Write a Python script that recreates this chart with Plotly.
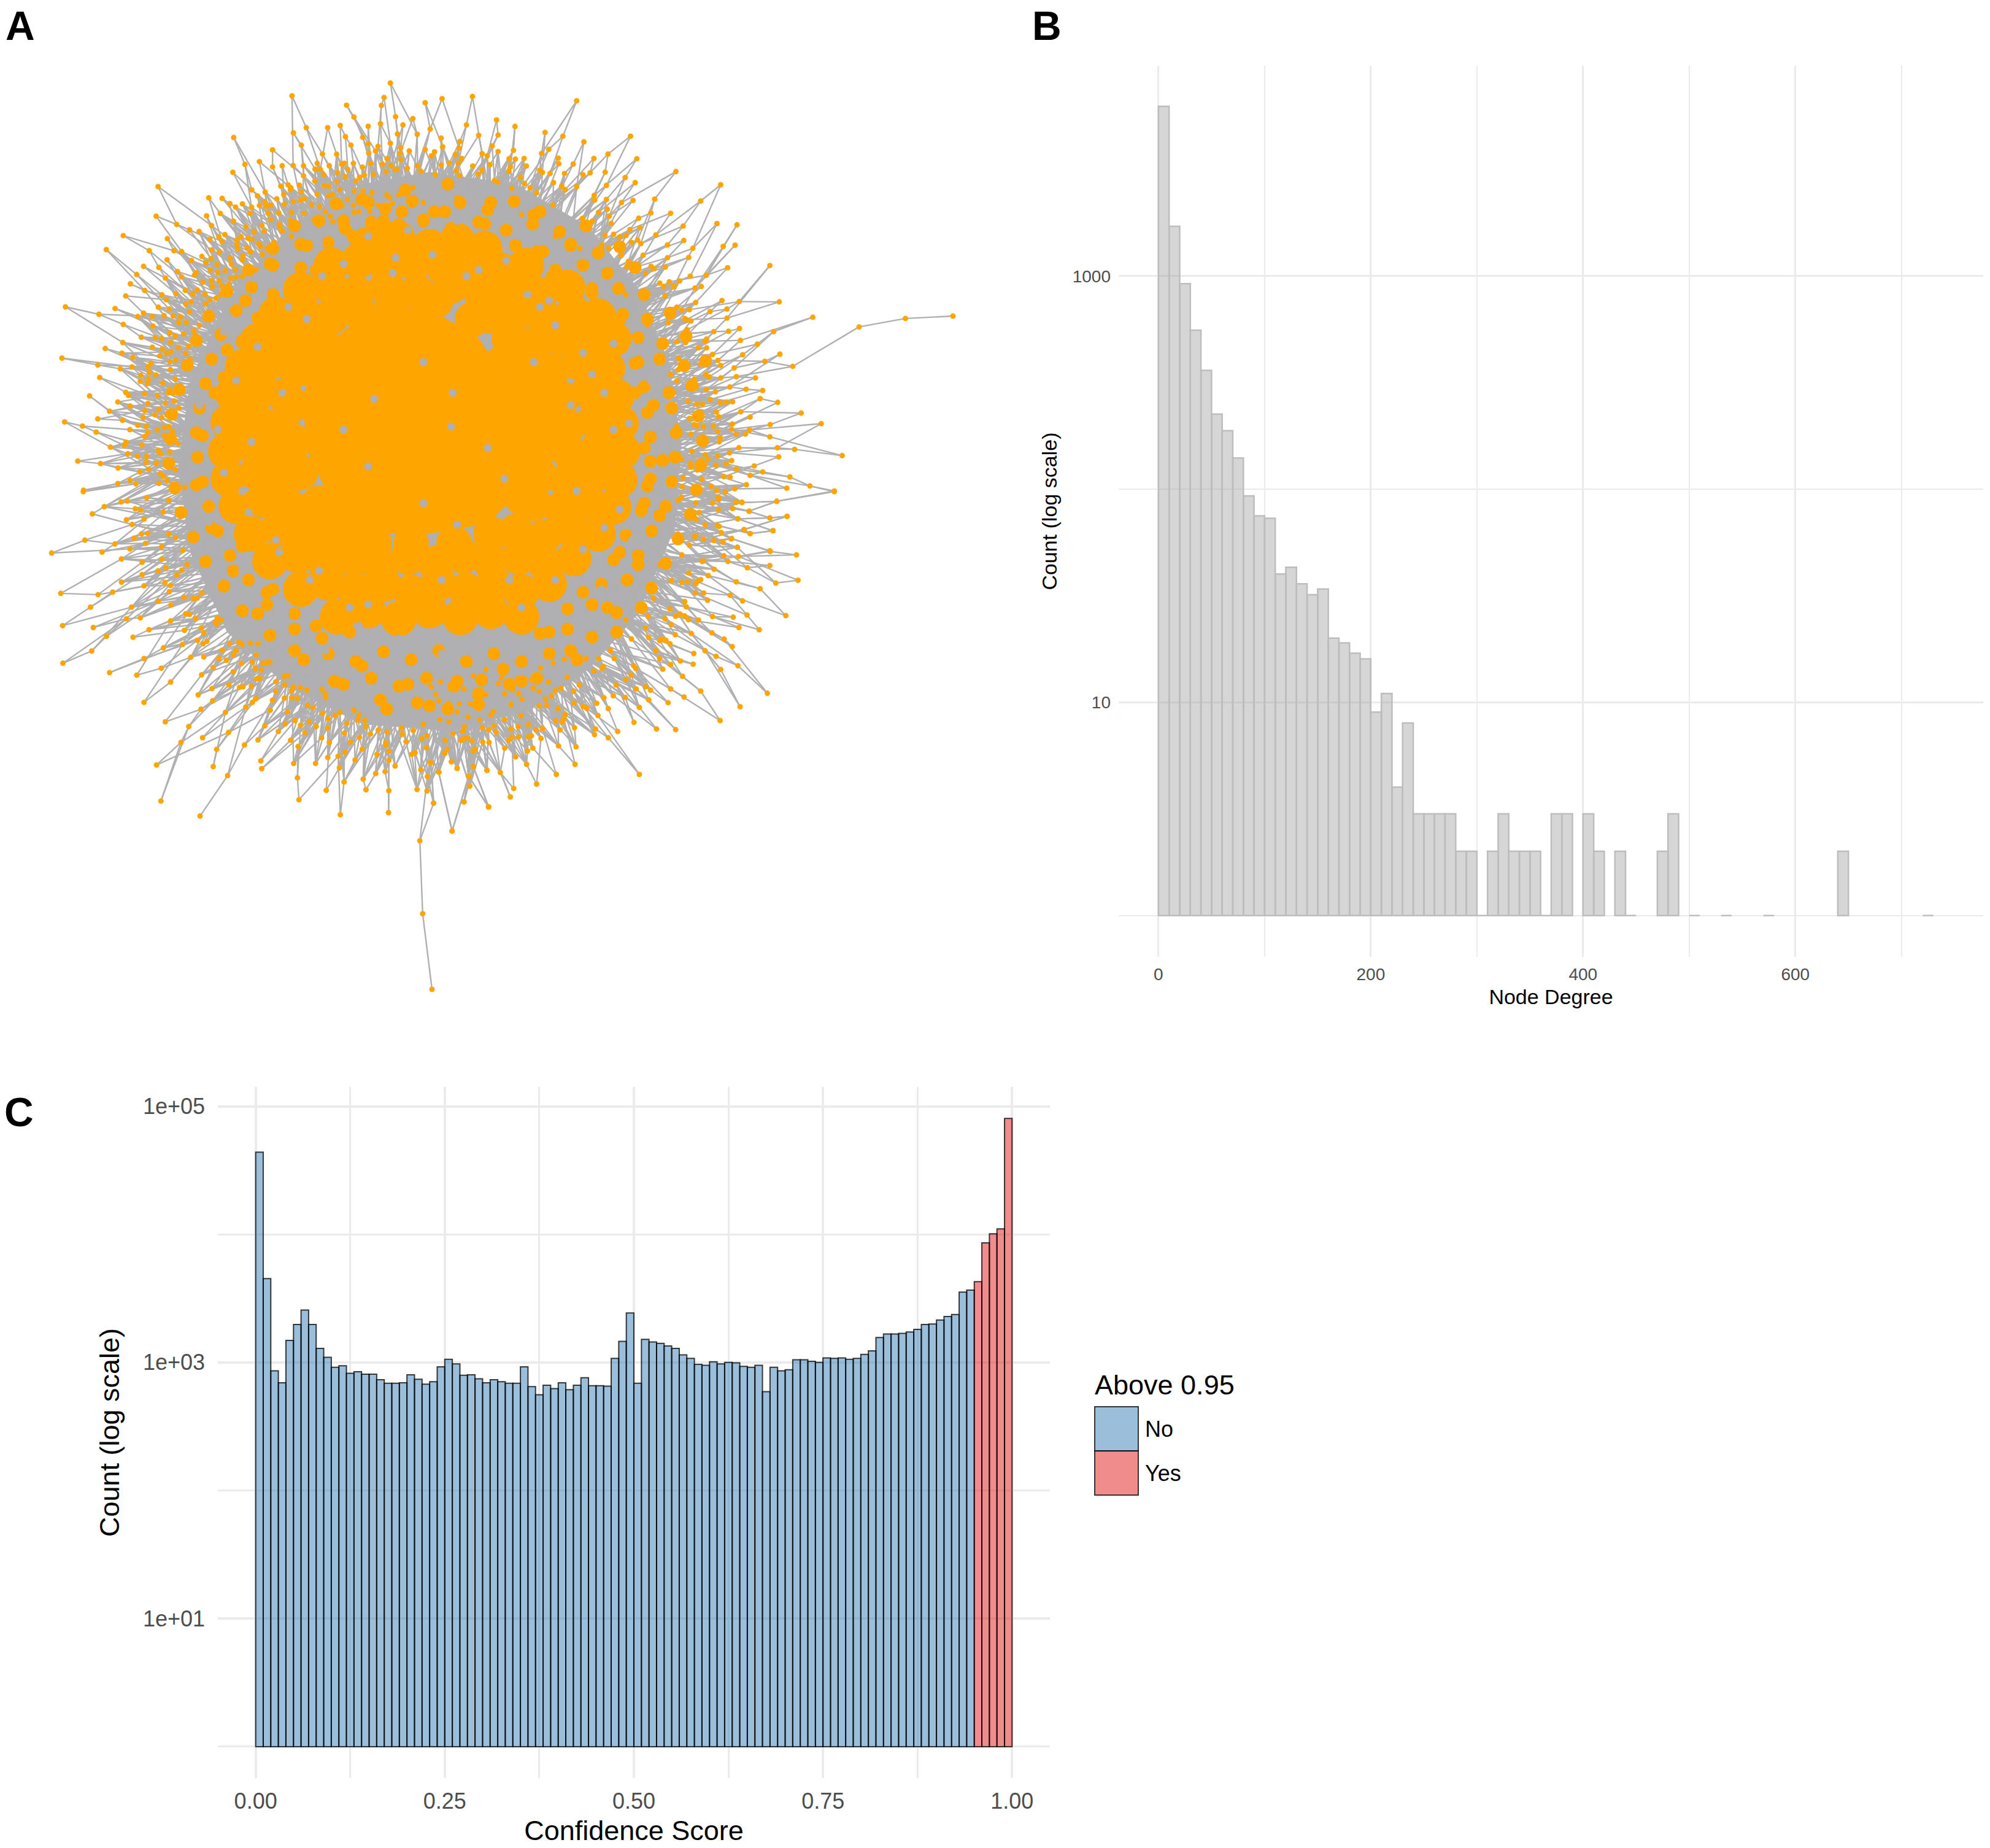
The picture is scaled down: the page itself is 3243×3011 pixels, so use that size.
################################################################################
# Three panel figure: network layout, node degree histogram, confidence histogram
################################################################################

import numpy as np
import plotly.graph_objects as go

W, H = 3243, 3011
FONT = "Liberation Sans"

################################################################################
# Panel A data, node positions, one block per quadrant

nw_nodes = [(1066,126),(1071,261),(1425,79),(1402,132),(1265,160),(1392,161),(1292,203),(1552,151),(1444,202),(1507,209),
(1242,234),(1344,237),(1389,228),(1471,232),(1118,242),(1196,242),(1261,275),(1324,277),(1451,265),(1523,266),(853,278),
(1100,306),(1281,306),(1344,301),(1380,310),(1425,299),(1463,315),(1494,327),(1552,322),(995,323),(1177,338),(1229,339),
(1346,335),(1413,355),(1464,359),(947,366),(894,376),(995,385),(1030,381),(1070,380),(1108,381),(1158,372),(1202,381),
(1247,376),(1290,372),(1353,373),(1396,375),(1427,379),(850,405),(1108,418),(1150,393),(1182,414),(1232,406),(1270,395),
(1323,386),(1364,413),(1409,402),(1450,394),(1487,390),(1524,382),(1149,437),(1025,455),(1052,451),(1093,452),(1183,454),
(1200,456),(1260,421),(1300,437),(1330,415),(577,457),(919,469),(968,477),(1036,486),(1060,468),(1100,476),(1158,485),
(1214,487),(1240,468),(1292,473),(1325,472),(1358,479),(1412,487),(1456,487),(1508,460),(762,498),(811,500),(940,491),
(1071,512),(1097,507),(1200,490),(1268,504),(1310,510),(839,519),(885,520),(860,532),(918,532),(967,512),(947,526),
(989,525),(1038,521),(1137,524),(1167,530),(1212,516),(1248,527),(1290,525),(1380,526),(1433,518),(1500,525),(804,555),
(754,564),(913,555),(978,554),(1018,553),(1064,551),(1110,555),(1145,578),(1206,565),(1250,568),(1293,551),(1350,547),
(570,565),(852,583),(988,577),(1060,580),(1215,585),(645,595),(772,599),(898,604),(956,599),(1020,596),(1085,605),
(692,615),(727,621),(928,622),(965,620),(1030,620),(450,636),(611,647),(766,649),(799,640),(821,632),(880,640),(906,645),
(1000,660),(811,658),(864,652),(920,650),(388,687),(545,691),(635,691),(663,694),(772,688),(801,696),(868,684),(902,680),
(945,665),(737,712),(699,727),(770,719),(840,718),(887,710),(915,695),(958,705),(610,724),(524,748),(580,752),(751,735),
(845,740),(885,725),(499,778),(648,767),(716,771),(767,762),(795,770),(822,764),(860,760),(604,791),(663,787),(710,780),
(862,788),(935,760),(476,812),(740,806),(772,800),(800,800),(835,815),(528,836),(677,836),(720,834),(775,822),(810,820),
(642,848),(459,856),(591,852),(748,850),(765,870),(607,870),(678,886),(698,877),(750,885),(239,896),(420,902),(578,897),
(618,904),(361,923),(524,919),(503,931),(555,931),(599,928),(632,929),(692,914),(652,953),(450,960),(558,966),(680,953),
(516,1007),(567,1008),(590,1012),(620,990),(640,1003),(670,995),(712,1000),(448,1026),(556,1043),(622,1026),(652,1045),
(688,1040),(384,1048),(445,1065),(583,1075),(608,1065),(624,1060),(226,1083),(485,1080),(357,1108),(482,1115),(439,1122),
(540,1115),(551,1102),(620,1096),(642,1090),(680,1120),(514,1146),(545,1135),(622,1125),(364,1154),(543,1160),(512,1168),
(538,1176),(594,1174),(640,1160),(327,1221),(459,1208),(469,1219),(528,1213),(575,1220),(614,1210),(430,1243),(540,1248),
(603,1248),(636,1240),(475,1258),(580,1270),(653,1265),(400,1277),(565,1290),(620,1285),(236,1316),(357,1305),(447,1310),
(523,1300),(590,1300),(301,1331),(503,1328),(534,1331),(600,1335),(351,1353),(474,1344),(575,1345),(630,1350),(540,1355),
(460,1390),(454,1402),(518,1400),(403,1408),(600,1365),(620,1385),(650,1395),(284,1459),(367,1468),(467,1432),(502,1441),
(535,1441),(586,1432),(620,1425),(431,1484),(534,1464),(570,1467),(608,1460),(543,1489),(585,1505),(640,1490),(475,1529),
(430,1541),(305,1565),(496,1542),(580,1540),(610,1530),(675,1555)]

ne_nodes = [(40,119),(137,112),(470,126),(214,187),(118,203),(273,208),(2,216),(157,236),(219,235),(369,227),(426,239),
(493,257),(642,239),(37,245),(97,256),(42,273),(200,270),(94,277),(16,289),(168,295),(219,288),(268,284),(358,294),(381,281),
(525,310),(570,296),(662,311),(103,310),(254,311),(274,312),(302,310),(411,309),(63,325),(92,325),(37,331),(138,334),(309,334),
(459,328),(413,327),(787,352),(167,347),(193,330),(253,351),(352,348),(385,358),(431,358),(490,362),(513,356),(561,354),(930,394),
(18,361),(96,365),(155,360),(290,370),(625,371),(657,387),(565,396),(396,387),(470,400),(422,398),(526,428),(565,441),(613,451),
(650,444),(719,440),(866,446),(218,385),(303,390),(342,420),(263,405),(568,472),(540,482),(574,494),(707,484),(770,485),(668,501),
(918,518),(982,522),(810,526),(672,531),(520,510),(640,537),(723,554),(560,555),(588,552),(608,560),(628,556),(675,582),(645,578),
(760,586),(812,572),(938,591),(976,587),(841,597),(572,597),(682,619),(760,627),(828,626),(612,620),(952,659),(1087,652),(884,683),
(833,686),(630,655),(690,677),(717,662),(753,657),(799,701),(766,704),(658,665),(868,719),(848,724),(735,708),(748,719),(780,720),
(752,749),(934,764),(989,767),(1117,768),(850,770),(790,785),(806,794),(830,793),(950,791),(896,799),(1224,817),(1520,821),(1372,848),
(950,820),(820,825),(835,829),(990,853),(955,862),(908,863),(1099,863),(823,857),(885,887),(993,891),(790,895),(818,898),(1047,903),
(885,915),(858,915),(904,936),(1000,937),(1119,935),(921,955),(1071,958),(866,967),(820,965),(1160,974),(930,971),(973,979),(770,1000),
(795,985),(882,1000),(980,1007),(930,1011),(1041,1011),(845,1015),(790,1020),(1011,1047),(1064,1051),(959,1040),(884,1048),(913,1055),
(825,1040),(850,1040),(1056,1077),(897,1080),(948,1088),(968,1087),(853,1095),(872,1095),(825,1085),(1112,1089),(994,1119),(916,1120),
(867,1122),(1187,1123),(1024,1136),(924,1135),(830,1140),(1251,1157),(1088,1160),(967,1158),(907,1165),(1022,1177),(965,1175),(920,1182),
(875,1167),(845,1160),(979,1190),(1009,1190),(1087,1199),(880,1217),(925,1215),(835,1190),(988,1234),(1111,1234),(1166,1239),(838,1245),
(958,1250),(1115,1263),(920,1260),(1318,1259),(965,1275),(890,1270),(867,1275),(805,1270),(1037,1292),(980,1302),(915,1290),(855,1305),
(835,1296),(1064,1311),(1024,1322),(960,1328),(940,1326),(870,1335),(810,1330),(1151,1327),(1215,1356),(1141,1363),(1012,1352),(975,1365),
(900,1357),(808,1358),(1293,1372),(945,1375),(917,1370),(848,1380),(923,1393),(805,1392),(979,1408),(998,1408),(1109,1405),(850,1410),
(905,1410),(968,1428),(923,1432),(1021,1437),(862,1440),(1142,1453),(1087,1458),(985,1461),(880,1480),(925,1485),(1005,1495),(1097,1499),
(1024,1508),(932,1505),(850,1515),(965,1524),(908,1530),(875,1526),(937,1535),(983,1552),(830,1545),(1087,1563)]

sw_nodes = [(266,2),(387,35),(407,32),(333,50),(432,57),(449,61),(295,73),(460,90),(404,92),(422,107),(452,137),(428,151),(271,157),
(367,169),(465,167),(516,178),(415,185),(165,198),(326,195),(584,190),(388,217),(454,228),(530,245),(505,255),(454,267),(565,268),(388,291),
(460,303),(527,292),(545,302),(360,323),(194,327),(313,331),(506,352),(546,364),(289,371),(420,371),(588,340),(630,342),(404,408),(448,405),
(593,392),(625,407),(545,415),(694,406),(200,430),(298,436),(476,443),(589,445),(643,437),(692,425),(340,464),(425,467),(651,453),(630,477),
(661,480),(583,490),(522,501),(293,511),(460,535),(609,531),(651,530),(699,535),(710,508),(733,487),(773,490),(800,486),(825,487),(745,523),
(818,524),(201,550),(515,566),(681,564),(771,551),(805,546),(840,550),(862,545),(350,580),(437,588),(644,587),(745,577),(835,571),(545,610),
(820,600),(830,598),(908,592),(920,590),(677,631),(731,619),(765,627),(803,623),(881,609),(881,640),(938,625),(960,628),(980,636),(1028,633),
(633,651),(460,675),(679,670),(818,663),(806,675),(785,690),(863,700),(908,662),(932,660),(950,662),(1040,660),(642,697),(720,707),(918,705),
(1000,692),(1030,710),(1070,717),(1048,727),(528,737),(911,744),(846,750),(960,748),(988,737),(1108,742),(1130,700),(1142,732),(1165,732),
(603,752),(889,768),(974,772),(1010,752),(1100,773),(730,771),(1183,776),(1208,764),(1237,770),(1285,777),(1320,765),(647,788),(578,803),
(781,811),(824,795),(928,796),(952,816),(1027,788),(1052,803),(1148,787),(1232,803),(1297,800),(1347,790),(1157,824),(1102,834),(1242,831),
(1326,836),(1361,820),(1421,838),(1518,825),(692,825),(1204,841),(1080,847),(1047,851),(833,862),(1134,859),(1242,860),(1374,867),(1442,865),
(500,875),(1008,870),(938,870),(681,880),(1084,884),(1262,878),(836,887),(1344,890),(1460,886),(1512,880),(1556,892),(727,909),(950,916),
(1200,902),(1230,896),(1402,898),(1365,912),(1497,911),(1160,920),(1099,929),(1501,942),(1332,953),(1042,956),(1169,954),(1242,957),(1364,958),
(514,990),(955,986),(1385,997),(1482,993),(1561,1009),(1241,1027),(639,1038),(1087,1034),(1444,1086),(1341,1117),(1350,1350)]

se_nodes = [(1293,2),(1109,33),(1142,81),(1087,86),(1021,64),(985,89),(998,37),(979,36),(1097,127),(1024,136),(1004,124),(963,153),(937,162),
(908,158),(875,154),(846,146),(983,180),(1088,193),(987,209),(940,207),(1172,204),(1087,238),(1015,245),(953,225),(871,225),(909,250),(890,270),
(866,283),(855,289),(828,262),(1177,285),(1106,294),(1056,312),(980,290),(825,289),(806,292),(960,333),(876,326),(849,326),(1000,351),(888,349),
(815,353),(1138,398),(1014,396),(904,401),(970,403),(820,370),(768,377),(800,393),(815,399),(827,411),(859,412),(752,408),(988,436),(1053,443),
(772,427),(690,437),(902,453),(836,455),(785,459),(700,468),(941,473),(735,478),(755,477),(768,488),(967,497),(880,510),(844,519),(723,510),
(915,528),(985,558),(842,553),(801,543),(735,535),(770,554),(930,570),(745,569),(808,592),(652,558),(866,639),(1079,646),(813,658),(770,632),
(706,636),(690,625),(627,602),(644,588),(660,632),(992,689),(587,654),(625,659),(700,667),(762,676),(670,691),(557,660),(534,678),(491,688),
(571,695),(461,677),(928,733),(653,739),(538,717),(433,714),(725,760),(786,762),(601,768),(530,760),(463,756),(571,788),(527,778),(417,763),
(403,734),(424,738),(361,759),(340,763),(316,746),(283,752),(260,760),(412,814),(468,817),(356,790),(240,821),(263,786),(284,786),(316,785),
(313,830),(330,821),(146,825),(48,837),(170,802),(190,803),(213,770),(275,849),(70,864),(5,868),(670,905),(465,873),(310,873),(140,880),(88,885),
(29,897),(183,892),(226,899),(405,905),(125,911),(342,936),(128,943),(269,950),(258,977),(13,997),(110,993),(188,1009),(72,1086),(110,790),
(135,798),(100,797),(205,750),(168,755),(112,753),(75,775),(50,797),(120,788),(62,737),(33,730),(123,722),(160,730),(240,730),(205,704),(150,688),
(95,680),(60,678),(30,670),(130,680),(260,682),(295,665),(350,686),(410,695),(460,640),(420,630),(390,655),(370,665),(330,630),(350,640),(240,648),
(180,650),(145,655),(110,632),(65,630),(20,650),(220,615),(265,635),(300,610),(380,610),(440,595),(525,575),(555,560),(590,535),(540,535),(500,535),
(460,517),(430,537),(395,550),(355,565),(325,602),(280,600),(230,597),(180,570),(140,590),(95,605),(35,610),(5,625)]

# nodes just outside the dense part
band_nodes = [(474,306),(522,276),(561,266),(612,246),(652,250),(703,254),(742,252),(794,254),(832,272),(884,281),(921,309),(969,326),(996,364),
(1039,391),(1061,434),(1099,466),(1116,519),(1149,556),(1156,614),(1174,656),(1174,714),(1184,756),(1171,814),(1169,856),(1146,914),(1134,951),
(1101,1004),(1079,1041),(1036,1089),(1004,1116),(956,1154),(919,1171),(866,1199),(829,1206),(771,1224),(729,1221),(671,1229),(629,1214),(571,1209),
(534,1186),(481,1174),(444,1141),(396,1119),(369,1076),(331,1049),(309,1001),(276,964),(264,911),(241,869),(239,811),(228,769),(236,711),(236,669),
(254,611),(264,569),(294,516),(314,479),(354,431),(386,399),(434,336),(451,324),
(496,324),(549,296),(586,289),(644,276),(686,279),(744,278),(806,294),(864,306),(901,334),(949,356),(981,399),(1024,426),(1051,484),(1089,526),
(1106,584),(1134,631),(1136,694),(1149,741),(1136,804),(1134,846),(1111,904),(1094,946),(1056,1004),(1029,1041),(981,1089),(944,1116),(891,1149),
(849,1166),(796,1189),(754,1191),(696,1199),(654,1186),(596,1184),(554,1161),(501,1149),(464,1116),(416,1089),(389,1046),(351,1014),(329,966),
(296,929),(286,876),(266,834),(266,776),(258,734),(272,676),(276,634),(302,576),(316,539),(352,486),(376,454),(424,401),(456,369),
(690,330),(745,322),(798,345),(850,350),(905,385),(945,405),(985,450),(1020,480),(1055,530),(1070,585),(1098,640),(1103,695),(1125,755),(1105,815),
(1105,870),(1075,920),(1065,975),(1020,1010),(995,1060),(945,1080),(905,1125),(845,1130),(800,1165),(745,1160),(690,1180),(635,1160),(585,1165),
(530,1130),(475,1125),(435,1080),(385,1060),(360,1010),(315,975),(305,920),(275,870),(275,815),(255,755),(275,695),(282,640),(310,585),(325,530),
(360,480),(395,450),(435,405),(475,385),(530,345),(585,345),(635,322)]

# dense part of the network, small clumps of nodes around the heavy area
mix_nodes = [(600,330),(660,310),(730,300),(800,330),(870,350),(930,400),(560,360),(500,400),(440,430),(400,490),
(620,375),(690,360),(760,385),(840,400),(900,450),(965,470),(1010,520),(540,430),(475,470),(420,540),
(370,570),(350,640),(330,710),(320,790),(345,860),(380,930),(420,1000),(480,1060),(545,1110),(620,1140),
(700,1150),(780,1130),(850,1110),(930,1060),(990,990),(1040,920),(1075,840),(1080,750),(1065,660),(1040,590),
(655,345),(575,385),(515,440),(445,490),(395,555),(365,615),(355,680),(360,750),(370,815),(395,890),
(435,965),(515,1020),(590,1085),(665,1115),(745,1110),(820,1090),(895,1030),(950,965),(1010,900),(1050,820),
(1050,730),(1035,640),(985,585),(935,505),(875,410),(790,365),(725,345),(625,360),(1000,680),(1060,780),
(548,332),(590,325),(628,340),(672,328),(708,345),(750,330),(795,342),(838,328),(880,345),
(480,368),(520,360),(562,372),(605,362),(650,366),(690,358),(735,372),(780,362),(825,375),(868,365),(912,378),(955,368),
(445,405),(490,398),(535,395),(840,400),(885,410),(930,398),(975,412),(1010,402),
(405,440),(445,432),(490,436),(905,440),(950,432),(990,445),(1035,436),
(370,475),(410,468),(445,480),(965,478),(1008,470),(1050,480),
(340,515),(385,506),(420,518),(1015,512),(1055,520),(1092,510),
(320,555),(360,545),(395,558),(1040,550),(1080,560),(1118,548),
(305,595),(345,585),(1035,592),(1075,585),(1115,596),(1150,588),
(292,635),(335,625),(1050,630),(1090,640),(1128,628),
(280,675),(325,665),(1055,672),(1095,665),(1138,678),
(278,715),(320,705),(1060,712),(1102,705),(1145,718),
(275,755),(322,745),(1060,752),(1100,745),(1142,758),
(285,795),(330,785),(1055,792),(1095,785),(1135,798),
(295,835),(340,825),(1045,832),(1085,825),(1125,838),
(315,875),(355,865),(395,880),(1020,872),(1062,865),(1105,878),
(335,915),(375,905),(1000,912),(1040,905),(1085,918),
(365,955),(405,945),(445,960),(980,952),(1022,945),(1062,958),
(395,995),(435,985),(480,1000),(925,992),(965,985),(1005,998),(1045,990),
(440,1035),(480,1025),(525,1040),(570,1030),(880,1032),(925,1025),(965,1038),(1005,1030),
(495,1075),(535,1065),(580,1078),(625,1062),(670,1075),(715,1060),(760,1078),(805,1065),(850,1078),(895,1065),(940,1075),
(560,1115),(605,1105),(650,1118),(695,1105),(740,1118),(785,1108),(830,1115),(875,1105),
(630,1155),(680,1145),(730,1155),(780,1148)]

# heavy area around the solid core, nodes overlap nearly everywhere here
heavy_nodes = [(600,398),(648,388),(700,402),(745,392),(790,405),
(540,432),(585,425),(632,436),(675,428),(725,438),(772,430),(815,440),(858,432),
(490,472),(535,465),(580,478),(630,468),(680,476),(735,466),(785,478),(830,470),(880,480),(925,468),
(450,512),(492,505),(540,516),(585,508),(800,515),(845,508),(890,520),(935,510),(975,515),
(420,555),(462,548),(505,558),(830,552),(872,560),(915,550),(960,558),(1000,552),
(395,598),(440,590),(482,600),(855,595),(900,604),(945,592),(990,600),
(380,642),(425,635),(465,645),(870,640),(915,650),(960,638),(1005,646),
(372,688),(415,680),(458,692),(880,682),(925,695),(970,685),(1012,690),
(368,735),(412,725),(455,738),(885,728),(930,740),(975,730),(1015,735),
(372,780),(418,770),(462,785),(880,775),(925,785),(970,772),(1010,782),
(385,825),(430,815),(475,828),(515,835),(870,820),(915,830),(960,818),(1000,826),
(410,870),(455,860),(500,875),(545,868),(590,880),(840,866),(885,876),(930,862),(975,870),
(440,915),(485,905),(530,918),(575,910),(620,922),(665,908),(710,918),(755,906),(800,916),(845,908),(890,920),(935,910),
(490,960),(535,950),(580,962),(625,952),(670,965),(715,950),(760,962),(805,952),(850,964),(895,952),
(550,1005),(600,995),(650,1008),(700,995),(750,1006),(800,996),(850,1005),
(820,590),(845,640),(860,690),(865,750),(850,810),(800,870),(740,885),(670,885),(610,885),(560,850),(520,820),(490,770),
(480,720),(475,660),(490,600),(520,545),(570,495),(640,490),(710,490),(770,520)]

# gaps left in the orange, the edges show through there
gap_x = [690,738,610,560,735,795,600,690,745,822,500,870,930,460,940,410,600,720,830,520,645,760,880,965,395,455,985,1000,700,585,
         560,640,705,780,860,905,950,985,1025,1040,1010,950,905,850,780,720,650,570,505,450,405,365,355,385,420,470,525,600,665,745,
         825,895,1000,1060,1085,1075,1030,980,900,830,620,530,465,395,340,310,325,365,440,520]
gap_y = [590,640,650,700,695,730,760,820,855,780,520,590,660,640,800,720,985,945,945,930,420,450,500,610,800,900,860,700,1030,1020,
         430,445,415,440,480,530,575,640,690,760,830,895,945,990,1030,1065,1040,990,945,880,835,770,700,620,565,500,450,385,375,360,
         425,490,560,620,700,810,880,960,1010,1050,1090,1060,1000,930,850,760,660,540,460,395]

core_outline_x = [606,698,778,824,858,853,795,698,606,537,503,491,520]
core_outline_y = [503,503,548,617,709,795,853,870,870,813,738,652,571]
mass_outline_x = [700,840,960,1040,1090,1110,1100,1040,960,860,720,590,470,370,310,290,310,370,470,590]
mass_outline_y = [280,300,370,470,590,720,860,1000,1090,1160,1190,1180,1120,1030,900,760,620,490,370,300]

################################################################################
# Panel B data, left edge of each 10 wide bin that holds anything

degree_bins = [0,10,20,30,40,50,60,70,80,90,100,110,120,130,140,150,160,170,180,190,200,210,220,230,
               240,250,260,270,280,290,300,310,320,330,340,350,360,370,380,400,410,430,440,470,480,
               500,530,570,640,720]
degree_counts = [6260,1710,921,557,361,225,188,140,93,75,73,40,43,36,32,34,20,19,17,16,9,11,4,8,
                 3,3,3,3,2,2,1,2,3,2,2,2,1,3,3,3,2,2,1,2,3,
                 1,1,1,2,1]

################################################################################
# Panel C data, 100 bins of width 0.01

score_bins = [i/100 for i in range(100)]
score_counts = [43800,4510,861,694,1486,1979,2565,1979,1288,1096,916,942,823,846,809,809,733,688,688,694,
                801,739,676,707,925,1057,975,794,801,746,694,733,707,688,688,925,647,560,664,624,
                694,612,664,759,658,658,652,1077,1459,2432,688,1513,1445,1409,1346,1288,1146,1077,967,950,
                1011,975,1002,993,933,916,950,591,916,861,876,1048,1048,1020,1002,1086,1077,1086,1057,1077,
                1156,1230,1567,1670,1670,1684,1730,1810,1979,1996,2144,2284,2367,3540,3670,4273,8590,10090,11040,80500]
above_flags = ["Yes" if b >= 0.95 else "No" for b in score_bins]

score_ticks = [0, 0.25, 0.5, 0.75, 1]
score_labels = ["0.00", "0.25", "0.50", "0.75", "1.00"]
score_minor = [0.125, 0.375, 0.625, 0.875]

################################################################################
# Network helpers

def shift(nodes, x0, y0, scale):
    a = np.array(nodes, dtype=float)
    return a[:, 0]/scale + x0, a[:, 1]/scale + y0

nx_parts, ny_parts = [], []
for nodes, x0, y0, scale in [(nw_nodes, 0, 100, 2.24), (ne_nodes, 700, 100, 1.96),
                             (sw_nodes, 0, 800, 1.96), (se_nodes, 700, 800, 1.96),
                             (band_nodes, 0, 0, 1)]:
    a, b = shift(nodes, x0, y0, scale)
    nx_parts.append(a)
    ny_parts.append(b)
# tail on the bottom and the far right node
rim_x = np.concatenate(nx_parts + [np.array([704.0, 1553.0])])
rim_y = np.concatenate(ny_parts + [np.array([1612.0, 515.0])])

mix_x, mix_y = shift(mix_nodes, 0, 0, 1)
heavy_x, heavy_y = shift(heavy_nodes, 0, 0, 1)

all_x = np.concatenate([rim_x, mix_x, heavy_x])
all_y = np.concatenate([rim_y, mix_y, heavy_y])
CX, CY = 690, 760
radius = np.hypot(all_x-CX, all_y-CY)

# spokes: every outer node hangs on nodes further in, in about the same direction
# the far out ones mostly have a single edge
edge_x, edge_y = [], []
for i in range(len(rim_x)):
    dx, dy = all_x-all_x[i], all_y-all_y[i]
    dist = np.hypot(dx, dy)
    ux, uy = (CX-all_x[i])/radius[i], (CY-all_y[i])/radius[i]
    with np.errstate(divide="ignore", invalid="ignore"):
        cosine = (dx*ux + dy*uy)/dist
    ok = np.where((radius < radius[i]) & (cosine > 0.9))[0]
    if len(ok) == 0:
        continue
    ok = ok[np.argsort(dist[ok])]
    ranks = [0, 4] if radius[i] > 530 else [0, 2, 5, 9, 14, 20]
    for rank in ranks:
        if rank >= len(ok):
            break
        j = ok[rank]
        limit = 130 if radius[i] > 530 else 200
        if rank == 0 or dist[j] < limit:
            edge_x += [all_x[i], all_x[j], None]
            edge_y += [all_y[i], all_y[j], None]

################################################################################
# Figures

fig = go.Figure()

fig.add_trace(go.Scatter(x=mass_outline_x, y=mass_outline_y, fill="toself", fillcolor="#b0b0b2",
    mode="none", hoverinfo="skip", showlegend=False, xaxis="x", yaxis="y"))
fig.add_trace(go.Scatter(x=edge_x, y=edge_y, mode="lines", line=dict(color="#b0b0b2", width=2.4),
    hoverinfo="skip", showlegend=False, xaxis="x", yaxis="y"))
fig.add_trace(go.Scatter(x=mix_x, y=mix_y, mode="markers", marker=dict(color="#ffa500", size=21),
    hoverinfo="skip", showlegend=False, xaxis="x", yaxis="y"))
fig.add_trace(go.Scatter(x=heavy_x, y=heavy_y, mode="markers", marker=dict(color="#ffa500", size=58),
    hoverinfo="skip", showlegend=False, xaxis="x", yaxis="y"))
fig.add_trace(go.Scatter(x=core_outline_x, y=core_outline_y, fill="toself", fillcolor="#ffa500",
    mode="none", hoverinfo="skip", showlegend=False, xaxis="x", yaxis="y"))
fig.add_trace(go.Scatter(x=gap_x, y=gap_y, mode="markers", marker=dict(color="#b0b0b2", size=13),
    hoverinfo="skip", showlegend=False, xaxis="x", yaxis="y"))
fig.add_trace(go.Scatter(x=rim_x, y=rim_y, mode="markers", marker=dict(color="#ffa500", size=9),
    name="Nodes", showlegend=False, xaxis="x", yaxis="y"))

fig.add_trace(go.Bar(x=[b+5 for b in degree_bins], y=[c-1 for c in degree_counts], base=1, width=10,
    marker=dict(color="rgba(153,153,153,0.4)", line=dict(color="#bdbdbd", width=2.5)),
    name="Node Degree", showlegend=False, xaxis="x2", yaxis="y2"))

for flag, fill in [("No", "rgba(55,126,184,0.5)"), ("Yes", "rgba(228,26,28,0.5)")]:
    xs = [b+0.005 for b, f in zip(score_bins, above_flags) if f == flag]
    ys = [c-1 for c, f in zip(score_counts, above_flags) if f == flag]
    fig.add_trace(go.Bar(x=xs, y=ys, base=1, width=0.01,
        marker=dict(color=fill, line=dict(color="rgba(0,0,0,0.75)", width=2)),
        name=flag, showlegend=False, xaxis="x3", yaxis="y3"))

GRID = "#ebebeb"

def dom(a, b, size):
    return [a/size, b/size]

def ydom(top, bottom):
    return [1-bottom/H, 1-top/H]

fig.update_layout(
    width=W, height=H, margin=dict(l=0, r=0, t=0, b=0),
    paper_bgcolor="white", plot_bgcolor="white", barmode="overlay",
    font=dict(family=FONT, color="black"),
    xaxis=dict(domain=dom(0, 1680, W), range=[0, 1680], visible=False),
    yaxis=dict(domain=ydom(0, 1680), range=[1680, 0], visible=False),
    xaxis2=dict(domain=dom(1823, 3232, W), range=[-37.5, 777], anchor="y2",
        tickvals=[0, 200, 400, 600], ticktext=["0", "200", "400", "600"], tickfont=dict(size=28, color="#4d4d4d"),
        showgrid=True, gridcolor=GRID, gridwidth=3, zeroline=False, showline=False, ticklabelstandoff=9,
        minor=dict(tickvals=[100, 300, 500, 700], showgrid=True, gridcolor=GRID, gridwidth=2),
        title=dict(text="Node Degree", font=dict(size=34), standoff=10)),
    yaxis2=dict(domain=ydom(107, 1559), type="log", range=[-0.194, 3.987], anchor="x2",
        tickvals=[10, 1000], ticktext=["10", "1000"], tickfont=dict(size=28, color="#4d4d4d"),
        showgrid=True, gridcolor=GRID, gridwidth=3, zeroline=False, showline=False, ticklabelstandoff=12,
        minor=dict(tickvals=[1, 100], showgrid=True, gridcolor=GRID, gridwidth=2),
        title=dict(text="Count (log scale)", font=dict(size=34), standoff=14)),
    xaxis3=dict(domain=dom(355, 1711, W), range=[-0.05, 1.05], anchor="y3",
        tickvals=score_ticks, ticktext=score_labels, tickfont=dict(size=36, color="#4d4d4d"),
        showgrid=True, gridcolor=GRID, gridwidth=4, zeroline=False, showline=False, ticklabelstandoff=13,
        minor=dict(tickvals=score_minor, showgrid=True, gridcolor=GRID, gridwidth=2.5),
        title=dict(text="Confidence Score", font=dict(size=45), standoff=12)),
    yaxis3=dict(domain=ydom(1771, 2897), type="log", range=[-0.245, 5.151], anchor="x3",
        tickvals=[10, 1000, 100000], ticktext=["1e+01", "1e+03", "1e+05"], tickfont=dict(size=36, color="#4d4d4d"),
        showgrid=True, gridcolor=GRID, gridwidth=4, zeroline=False, showline=False, ticklabelstandoff=20,
        minor=dict(tickvals=[1, 100, 10000], showgrid=True, gridcolor=GRID, gridwidth=2.5),
        title=dict(text="Count (log scale)", font=dict(size=45), standoff=24)),
)

# panel letters
for letter, x, y in [("A", 33, 42), ("B", 1706, 42), ("C", 31, 1812)]:
    fig.add_annotation(text="<b>%s</b>" % letter, x=x/W, y=1-y/H, xref="paper", yref="paper",
        xanchor="center", yanchor="middle", showarrow=False, font=dict(size=66, color="black"))

# legend of panel C, swatches are much bigger than a plotly legend can draw
fig.add_annotation(text="Above 0.95", x=1782/W, y=1-2256/H, xref="paper", yref="paper",
    xanchor="left", yanchor="middle", showarrow=False, font=dict(size=45, color="black"))
for label, fill, top, bottom in [("No", "rgba(55,126,184,0.5)", 2292, 2364), ("Yes", "rgba(228,26,28,0.5)", 2364, 2436)]:
    fig.add_shape(type="rect", xref="paper", yref="paper", x0=1784/W, x1=1855/W, y0=1-top/H, y1=1-bottom/H,
        fillcolor=fill, line=dict(color="rgba(0,0,0,0.75)", width=2))
    fig.add_annotation(text=label, x=1864/W, y=1-(top+bottom)/2/H, xref="paper", yref="paper",
        xanchor="left", yanchor="middle", showarrow=False, font=dict(size=36, color="black"))

fig.write_html("out.html", config={"displayModeBar": False}, post_script="document.body.style.margin='0';")
